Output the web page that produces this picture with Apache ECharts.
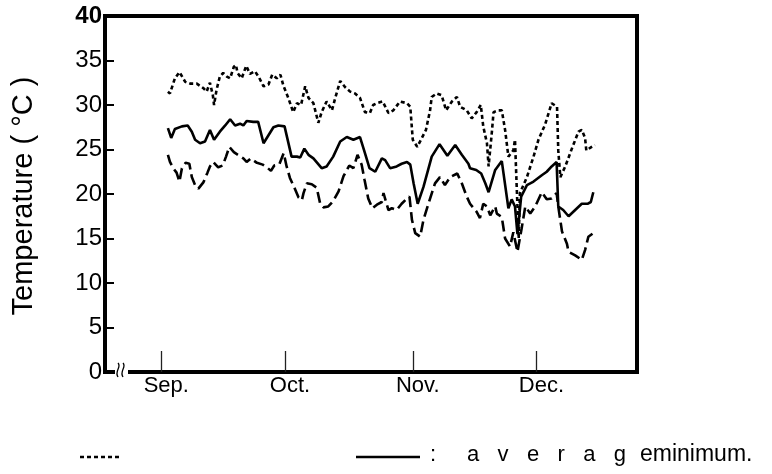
<!DOCTYPE html>
<html>
<head>
<meta charset="utf-8">
<script src="https://cdn.jsdelivr.net/npm/echarts@6/dist/echarts.min.js"></script>
<style>
html,body{margin:0;padding:0;background:#fff;}
#c{width:772px;height:474px;}
</style>
</head>
<body>
<div id="c"></div>
<script>
// Month tick positions (days since Sep 1) and labels
const monthTicks = [0, 30, 61, 91];
const monthLabels = ['Sep.', 'Oct.', 'Nov.', 'Dec.'];

// Average temperature (solid)
const avgDays = [1.6,2.4,3.3,5.0,6.4,7.4,8.2,9.4,10.6,11.8,12.8,14.2,15.5,16.7,17.9,19.1,19.9,20.7,22.3,23.5,24.8,26.0,27.2,28.4,29.9,31.6,32.9,33.7,34.7,35.7,36.9,38.9,40.1,41.7,43.4,45.0,46.6,48.2,49.2,50.5,51.9,53.5,54.3,55.5,57.1,58.3,59.6,60.4,61.2,62.2,63.6,65.6,67.5,69.4,71.3,72.9,74.5,74.9,76.4,77.6,78.6,79.4,81.0,82.6,84.2,85.0,85.8,86.4,87.3,88.7,90.3,92.3,93.5,94.7,95.9,96.3,97.5,98.8,100.4,102.0,103.4,104.2,104.8];
const avgTemp = [27.4,26.3,27.3,27.6,27.7,27.0,26.1,25.7,25.9,27.2,26.1,27.0,27.7,28.4,27.7,27.9,27.7,28.2,28.1,28.1,25.7,26.6,27.5,27.7,27.6,24.2,24.2,24.1,25.1,24.4,24.0,22.9,23.1,24.2,25.9,26.4,26.1,26.4,24.9,22.9,22.5,24.0,23.8,22.9,23.1,23.4,23.6,23.3,21.2,18.9,20.8,24.2,25.6,24.3,25.5,24.4,23.4,22.9,22.7,22.3,21.2,20.2,22.7,23.7,18.4,19.4,18.6,15.5,19.7,21.0,21.4,22.1,22.5,23.1,23.6,18.6,18.2,17.5,18.2,18.9,18.9,19.1,20.2];

// Maximum temperature (short dashes)
const maxDays = [1.6,2.1,3.3,4.4,5.8,7.0,8.6,10.2,11.0,11.8,12.5,12.8,13.4,14.2,15.0,15.9,16.7,17.6,18.1,18.5,19.5,20.6,21.5,22.7,23.7,24.8,26.0,26.9,28.0,28.9,29.6,30.8,32.0,32.9,33.9,34.9,35.7,36.9,38.1,38.9,40.1,41.4,42.2,43.4,44.6,45.8,47.0,48.2,49.4,50.6,51.4,52.3,53.7,55.1,56.3,57.9,59.6,60.4,61.0,62.1,63.0,64.2,65.2,65.6,66.8,68.0,69.1,70.5,71.7,72.5,74.1,75.3,76.5,77.5,78.1,79.0,79.4,80.2,80.6,81.8,82.6,83.4,84.2,85.4,85.8,86.2,86.7,87.0,88.7,90.3,91.5,93.1,94.7,96.0,96.3,96.8,98.0,99.6,101.2,102.0,102.8,103.1,104.4,105.2];
const maxTemp = [31.5,31.3,33.0,33.7,32.6,32.4,32.4,31.9,31.5,32.5,31.1,30.0,31.7,33.2,33.6,33.2,33.0,34.3,34.5,33.6,33.0,34.4,33.5,33.8,33.1,32.1,32.3,33.4,33.0,33.4,32.2,30.8,29.2,30.2,30.0,32.1,30.8,30.2,28.0,29.2,30.4,29.4,30.8,32.7,32.0,31.5,31.3,30.8,29.2,29.1,30.0,30.2,30.4,29.1,29.4,30.4,30.2,29.8,26.1,25.3,26.1,27.2,29.4,30.9,31.3,31.1,29.4,30.4,30.9,29.8,29.4,28.5,29.2,30.0,27.6,25.7,23.1,27.0,29.2,29.4,29.4,27.2,24.2,24.9,26.1,21.0,15.0,20.1,21.9,24.2,26.1,27.8,30.2,29.8,24.9,21.9,23.1,25.1,27.0,27.2,26.3,24.9,25.3,25.5];

// Minimum temperature (long dashes)
const minDays = [1.6,2.1,2.9,3.7,4.4,5.0,5.9,6.8,7.4,8.2,9.0,10.2,11.2,11.8,12.6,13.8,14.9,15.7,16.5,17.6,18.9,19.9,20.7,21.7,23.2,24.6,25.6,26.6,27.4,28.6,29.7,30.4,31.2,32.4,33.3,34.1,34.5,35.3,36.5,37.7,38.5,39.3,40.5,41.7,43.0,44.2,45.6,46.6,47.6,48.6,49.3,50.2,51.2,52.3,53.5,53.9,55.1,55.9,57.1,58.3,59.6,60.2,60.8,61.6,62.8,63.6,64.8,66.4,67.6,68.8,70.1,71.8,72.9,74.1,74.9,76.5,77.3,78.1,79.0,79.8,81.0,81.4,82.6,83.4,84.6,85.4,86.4,87.4,88.3,89.5,90.7,92.3,93.5,94.7,95.9,96.3,97.2,98.4,98.8,100.4,102.0,102.8,103.6,104.8];
const minTemp = [24.4,23.6,22.9,22.4,21.4,22.9,23.5,23.4,21.9,21.0,20.6,21.3,22.4,23.1,23.6,23.0,23.2,24.2,25.3,24.7,24.3,24.0,23.6,24.0,23.5,23.3,23.0,22.6,23.2,23.3,24.6,23.1,21.8,20.6,19.6,19.3,20.1,21.2,21.1,20.7,19.0,18.5,18.6,19.2,20.3,22.0,23.2,22.9,24.4,23.3,21.6,19.5,18.4,18.8,19.1,20.1,18.2,18.4,18.2,18.9,19.5,19.7,17.1,15.6,15.2,17.1,18.9,21.2,21.9,21.0,21.9,22.3,21.2,19.7,18.9,18.0,17.3,18.9,18.6,17.6,18.6,17.8,17.4,15.0,14.1,15.7,13.5,16.1,18.6,17.8,18.6,20.2,19.4,19.5,20.1,18.6,15.8,14.4,13.5,13.1,12.6,13.7,15.2,15.6];

function pairs(xs, ys) {
  const n = Math.min(xs.length, ys.length);
  const out = [];
  for (let i = 0; i < n; i++) out.push([xs[i], ys[i]]);
  return out;
}

const FONT = "'Liberation Sans', Arial, sans-serif";
const chart = echarts.init(document.getElementById('c'), null, {renderer: 'canvas'});

chart.setOption({
  animation: false,
  backgroundColor: '#fff',
  grid: {left: 105, right: 135, top: 16, bottom: 102, show: true, borderColor: '#000', borderWidth: 4, backgroundColor: 'transparent'},
  xAxis: {
    type: 'value', min: -13.66, max: 115.4,
    splitLine: {show: false},
    axisLine: {show: true, onZero: false, lineStyle: {color: '#000', width: 4}},
    axisTick: {show: true, inside: true, length: 21, customValues: monthTicks, lineStyle: {color: '#222', width: 1.3}},
    axisLabel: {
      show: true, customValues: monthTicks, margin: 3, padding: [0, 0, 0, 10],
      fontFamily: FONT, fontSize: 22, color: '#000',
      formatter: function (v) { const i = monthTicks.indexOf(v); return i >= 0 ? monthLabels[i] : ''; }
    }
  },
  yAxis: {
    type: 'value', min: 0, max: 40, interval: 5,
    splitLine: {show: false},
    axisLine: {show: true, onZero: false, lineStyle: {color: '#000', width: 4}},
    axisTick: {show: true, inside: true, length: 9, lineStyle: {color: '#000', width: 2}},
    axisLabel: {
      margin: 3, fontFamily: FONT, fontSize: 24, color: '#000',
      formatter: function (v) { return v === 40 ? '{b|40}' : String(v); },
      rich: {b: {fontFamily: FONT, fontSize: 24, fontWeight: 'bold', color: '#000'}}
    }
  },
  series: [
    {type: 'line', name: 'maximum', data: pairs(maxDays, maxTemp), symbol: 'none', z: 3,
     lineStyle: {color: '#000', width: 2.6, type: [4, 3], cap: 'butt'}},
    {type: 'line', name: 'average', data: pairs(avgDays, avgTemp), symbol: 'none', z: 4,
     lineStyle: {color: '#000', width: 2.6, type: 'solid'}},
    {type: 'line', name: 'minimum', data: pairs(minDays, minTemp), symbol: 'none', z: 3,
     lineStyle: {color: '#000', width: 2.6, type: [11, 5], cap: 'butt'}}
  ],
  graphic: [
    // axis break on the x axis
    {type: 'rect', z: 100, shape: {x: 115, y: 366, width: 13, height: 12}, style: {fill: '#fff'}},
    {type: 'bezierCurve', z: 101, shape: {x1: 118, y1: 363, cpx1: 122, cpy1: 367, cpx2: 114, cpy2: 371, x2: 118, y2: 377}, style: {stroke: '#000', lineWidth: 1.3, fill: null}},
    {type: 'bezierCurve', z: 101, shape: {x1: 123, y1: 363, cpx1: 127, cpy1: 367, cpx2: 119, cpy2: 371, x2: 123, y2: 377}, style: {stroke: '#000', lineWidth: 1.3, fill: null}},
    // y axis title
    {type: 'text', z: 50, x: 24, y: 196, rotation: Math.PI / 2,
     style: {text: 'Temperature ( °C )', font: '29px ' + FONT, fill: '#000', align: 'center', verticalAlign: 'middle'}},
    // bottom legend
    {type: 'line', z: 50, shape: {x1: 80, y1: 457, x2: 122, y2: 457}, style: {stroke: '#000', lineWidth: 2.5, lineDash: [4, 3]}},
    {type: 'line', z: 50, shape: {x1: 356, y1: 457, x2: 420, y2: 457}, style: {stroke: '#000', lineWidth: 2.5}},
    {type: 'text', z: 50, x: 430, y: 455, style: {text: ':', font: '22px ' + FONT, fill: '#000', align: 'left', verticalAlign: 'middle'}},
    {type: 'text', z: 50, x: 467, y: 455, style: {text: 'a   v   e   r   a   g', font: '22px ' + FONT, fill: '#000', align: 'left', verticalAlign: 'middle'}},
    {type: 'text', z: 50, x: 640, y: 455, style: {text: 'eminimum.', font: '23px ' + FONT, fill: '#000', align: 'left', verticalAlign: 'middle'}}
  ]
});
</script>
</body>
</html>
